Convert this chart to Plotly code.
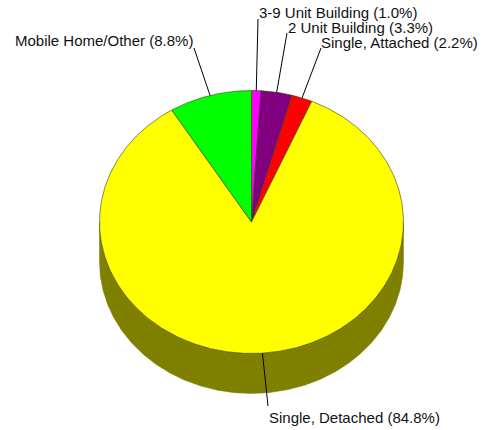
import numpy as np
import plotly.graph_objects as go

# ---- data ----
labels = ["3-9 Unit Building", "2 Unit Building", "Single, Attached",
          "Single, Detached", "Mobile Home/Other"]
values = [1.0, 3.3, 2.2, 84.8, 8.8]
top_colors = ["#FF00FF", "#800080", "#FF0000", "#FFFF00", "#00FF00"]
side_colors = ["#800080", "#400040", "#800000", "#808000", "#008000"]

# ---- layout constants (page pixels) ----
W, H = 481, 430
CX, CY = 251.5, 222.0
RX, RY = 152.0, 131.5
DEPTH = 40.0
# label: leader end x, leader end y, text x, text center y, text anchor side
label_pos = [(258, 19, 258, 12.5, "left"), (287, 33, 287, 27.5, "left"),
             (321, 48, 479, 42.5, "right"),
             (268, 406, 268, 417, "left"), (194, 48, 194, 40, "right")]


def pt(theta_deg, dy=0.0):
    t = np.radians(theta_deg)
    return CX + RX * np.sin(t), CY - RY * np.cos(t) + dy


def arc(a1, a2, dy=0.0):
    n = max(2, int(abs(a2 - a1) / 0.5) + 1)
    th = np.linspace(a1, a2, n)
    xs, ys = pt(th, dy)
    return list(xs), list(ys)


fig = go.Figure()
total = sum(values)
bounds = []
acc = 0.0
for v in values:
    a1 = acc / total * 360.0
    acc += v
    a2 = acc / total * 360.0
    bounds.append((a1, a2))

# sides (front half only: 90..270 deg)
for (a1, a2), sc in zip(bounds, side_colors):
    s1, s2 = max(a1, 90.0), min(a2, 270.0)
    if s2 <= s1:
        continue
    tx, ty = arc(s1, s2)
    bx, by = arc(s2, s1, DEPTH)
    fig.add_trace(go.Scatter(x=tx + bx + [tx[0]], y=ty + by + [ty[0]],
                             mode="lines", fill="toself", fillcolor=sc,
                             line=dict(color=sc, width=0.5),
                             hoverinfo="skip", showlegend=False))

# tops
for (a1, a2), c in zip(bounds, top_colors):
    ax, ay = arc(a1, a2)
    xs = [CX] + ax + [CX]
    ys = [CY] + ay + [CY]
    fig.add_trace(go.Scatter(x=xs, y=ys, mode="lines", fill="toself",
                             fillcolor=c, line=dict(color="#3a3a1a", width=0.6),
                             hoverinfo="skip", showlegend=False))

# leaders and labels
annotations = []
for (a1, a2), lab, v, (lx, ly, tx, ty, side) in zip(bounds, labels, values, label_pos):
    mx, my = pt((a1 + a2) / 2.0)
    fig.add_trace(go.Scatter(x=[mx, lx], y=[my, ly], mode="lines",
                             line=dict(color="#000000", width=1),
                             hoverinfo="skip", showlegend=False))
    annotations.append(dict(x=tx, y=ty, xref="x", yref="y",
                            text=f"{lab} ({v:.1f}%)", showarrow=False,
                            xanchor=side, yanchor="middle", borderpad=0,
                            font=dict(family="Liberation Sans, Arial, sans-serif",
                                      size=15, color="#111111")))

fig.update_layout(width=W, height=H, margin=dict(l=0, r=0, t=0, b=0),
                  paper_bgcolor="white", plot_bgcolor="white",
                  xaxis=dict(range=[0, W], visible=False, fixedrange=True),
                  yaxis=dict(range=[H, 0], visible=False, fixedrange=True),
                  annotations=annotations)

fig.write_html("out.html", config={"displayModeBar": False},
               post_script="document.body.style.margin='0';"
                           "document.body.style.overflow='hidden';")
